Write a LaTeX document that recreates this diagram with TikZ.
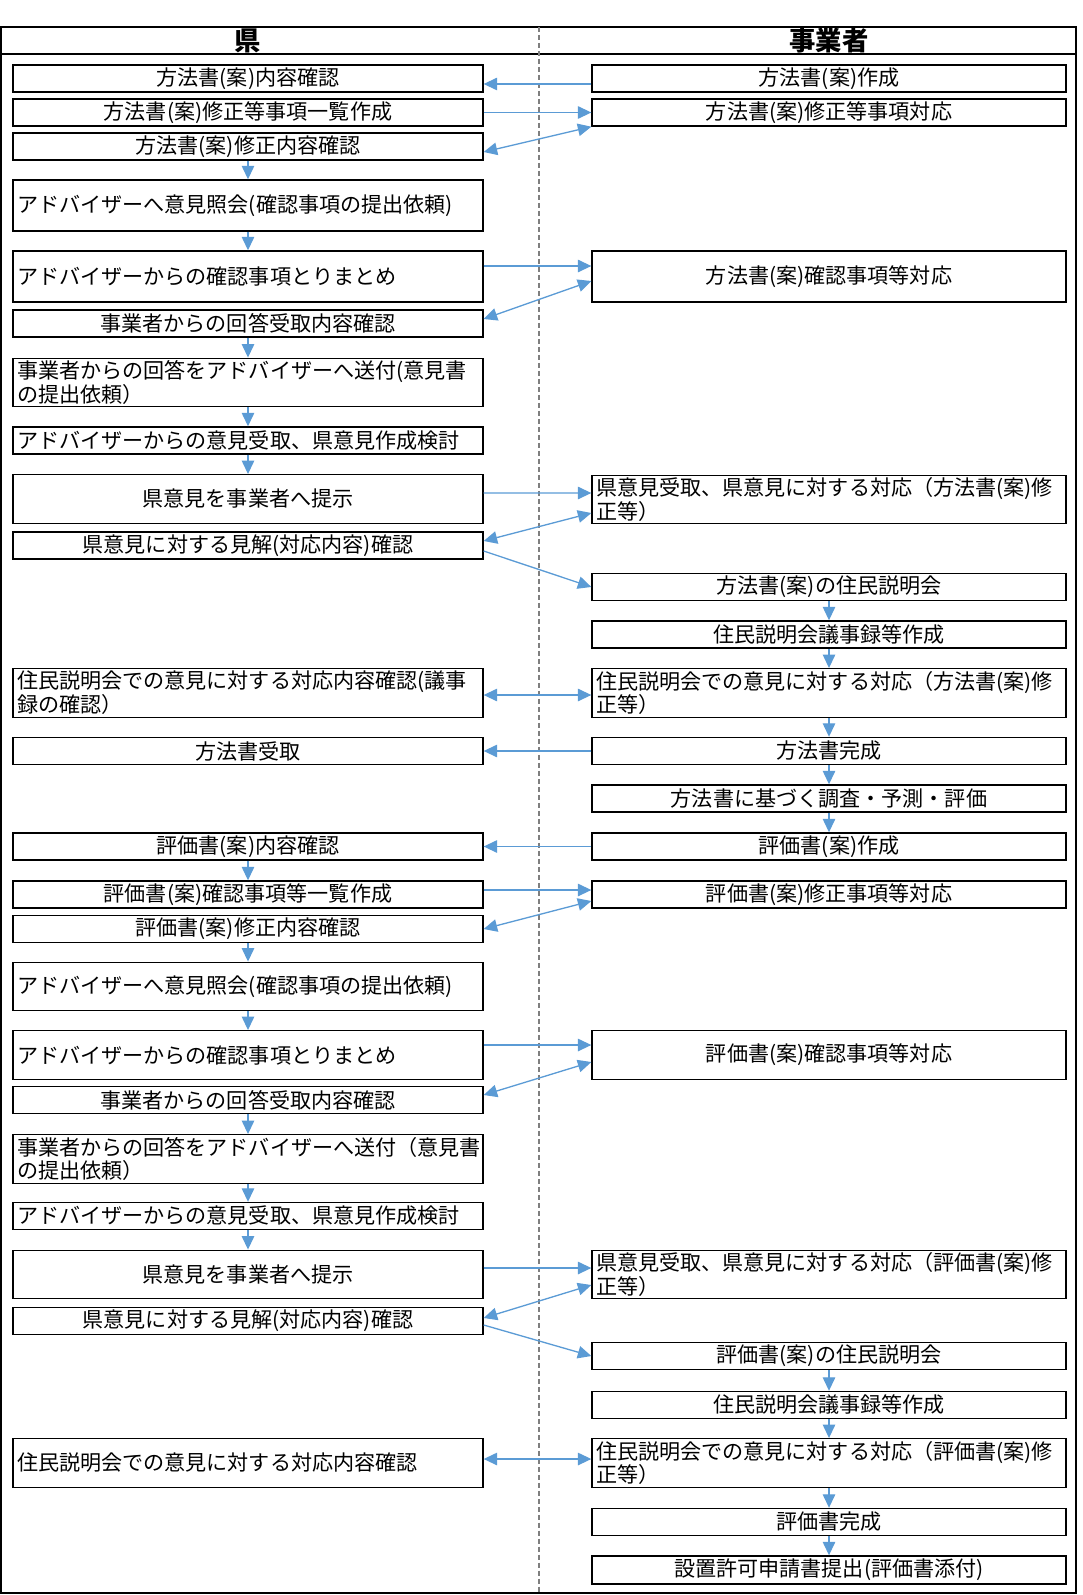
\documentclass[tikz,border=0pt]{standalone}
\usepackage{fontspec}
\setmainfont{Noto Sans CJK JP}
\usetikzlibrary{arrows.meta}
\definecolor{arrowblue}{HTML}{5B9BD5}
\definecolor{laneline}{HTML}{7F7F7F}

\begin{document}
\begin{tikzpicture}[x = 0.02cm, y = -0.02cm,
    box/.style = {draw, line width = 0.8pt, inner xsep = 0.08cm, inner ysep = 0pt, minimum height = 0.54cm, font = \fontsize{12pt}{12.6pt}\selectfont},
    lbox/.style = {box, text width = 9.24cm, align = center},
    rbox/.style = {box, text width = 9.32cm, align = center},
    tall/.style = {minimum height = 0.97cm},
    lft/.style = {align = left},
    head/.style = {font = \fontsize{15pt}{16pt}\selectfont\bfseries},
    arr/.style = {draw = arrowblue, line width = 0.75pt, -{Triangle[length = 0.27cm, width = 0.25cm]}},
    darr/.style = {arr, {Triangle[length = 0.27cm, width = 0.25cm]}-{Triangle[length = 0.27cm, width = 0.25cm]}}]
            \useasboundingbox(0,0)rectangle(1082,1595);
            % 枠
            \path[draw, line width = 0.8pt](1,27)rectangle(1076,1593);
            \path[draw, line width = 0.8pt](1,54)to(1076,54);
            \path[draw, laneline, line width = 0.7pt, dash pattern = on 0.1cm off 0.06cm](539,27)to(539,1593);
            \node[head](hd1)at(248,40.5){県};
            \node[head](hd2)at(829,40.5){事業者};

            % 県
            \node[lbox](l1)at(248,78.5){方法書(案)内容確認};
            \node[lbox](l2)at(248,112.5){方法書(案)修正等事項一覧作成};
            \node[lbox](l3)at(248,146.5){方法書(案)修正内容確認};
            \node[lbox, tall, lft, minimum height = 1.02cm](l4)at(248,205.5){アドバイザーへ意見照会(確認事項の提出依頼)};
            \node[lbox, tall, lft, minimum height = 1.02cm](l5)at(248,276.5){アドバイザーからの確認事項とりまとめ};
            \node[lbox](l6)at(248,323.5){事業者からの回答受取内容確認};
            \node[lbox, tall, lft](l7)at(248,382.5){事業者からの回答をアドバイザーへ送付(意見書\\の提出依頼）};
            \node[lbox, lft](l8)at(248,440.5){アドバイザーからの意見受取、県意見作成検討};
            \node[lbox, tall](l9)at(248,499){県意見を事業者へ提示};
            \node[lbox](l10)at(248,545.5){県意見に対する見解(対応内容)確認};
            \node[lbox, tall, lft](l13)at(248,693){住民説明会での意見に対する対応内容確認(議事\\録の確認）};
            \node[lbox](l14)at(248,751){方法書受取};
            \node[lbox](l16)at(248,846.5){評価書(案)内容確認};
            \node[lbox](l17)at(248,894.5){評価書(案)確認事項等一覧作成};
            \node[lbox](l18)at(248,929){評価書(案)修正内容確認};
            \node[lbox, tall, lft](l19)at(248,986.5){アドバイザーへ意見照会(確認事項の提出依頼)};
            \node[lbox, tall, lft](l20)at(248,1055){アドバイザーからの確認事項とりまとめ};
            \node[lbox](l21)at(248,1100){事業者からの回答受取内容確認};
            \node[lbox, tall, lft](l22)at(248,1159){事業者からの回答をアドバイザーへ送付（意見書\\の提出依頼）};
            \node[lbox, lft](l23)at(248,1216){アドバイザーからの意見受取、県意見作成検討};
            \node[lbox, tall](l24)at(248,1274.5){県意見を事業者へ提示};
            \node[lbox](l25)at(248,1321){県意見に対する見解(対応内容)確認};
            \node[lbox, tall, lft](l28)at(248,1463){住民説明会での意見に対する対応内容確認};

            % 事業者
            \node[rbox](r1)at(829,78.5){方法書(案)作成};
            \node[rbox](r2)at(829,112.5){方法書(案)修正等事項対応};
            \node[rbox, tall, minimum height = 1.02cm](r5)at(829,276.5){方法書(案)確認事項等対応};
            \node[rbox, tall, lft](r9)at(829,499.5){県意見受取、県意見に対する対応（方法書(案)修\\正等）};
            \node[rbox](r11)at(829,587){方法書(案)の住民説明会};
            \node[rbox](r12)at(829,634.5){住民説明会議事録等作成};
            \node[rbox, tall, lft](r13)at(829,693){住民説明会での意見に対する対応（方法書(案)修\\正等）};
            \node[rbox](r14)at(829,751){方法書完成};
            \node[rbox](r15)at(829,798.5){方法書に基づく調査・予測・評価};
            \node[rbox](r16)at(829,846.5){評価書(案)作成};
            \node[rbox](r17)at(829,894.5){評価書(案)修正事項等対応};
            \node[rbox, tall](r20)at(829,1055){評価書(案)確認事項等対応};
            \node[rbox, tall, lft](r24)at(829,1274.5){県意見受取、県意見に対する対応（評価書(案)修\\正等）};
            \node[rbox](r26)at(829,1356){評価書(案)の住民説明会};
            \node[rbox](r27)at(829,1405){住民説明会議事録等作成};
            \node[rbox, tall, lft](r28)at(829,1463){住民説明会での意見に対する対応（評価書(案)修\\正等）};
            \node[rbox](r29)at(829,1522){評価書完成};
            \node[rbox, minimum height = 0.56cm](r30)at(829,1570){設置許可申請書提出(評価書添付)};

            % 県と事業者の間
            \path[arr]([yshift = -0.11cm]r1.west)to([yshift = -0.11cm]l1.east);
            \path[arr](l2.east)to(r2.west);
            \path[darr]([yshift = -0.11cm]l3.east)to(r2.south west);
            \path[arr]([yshift = 0.21cm]l5.east)to([yshift = 0.21cm]r5.west);
            \path[darr]([yshift = 0.09cm]l6.east)to([yshift = -0.09cm]r5.west);
            \path[arr]([yshift = 0.12cm]l9.east)to([yshift = 0.13cm]r9.west);
            \path[darr]([yshift = 0.09cm]l10.east)to([yshift = -0.27cm]r9.west);
            \path[arr]([yshift = -0.11cm]l10.east)to(r11.west);
            \path[darr]([yshift = -0.04cm]l13.east)to([yshift = -0.04cm]r13.west);
            \path[arr](r14.west)to(l14.east);
            \path[arr](r16.west)to(l16.east);
            \path[arr]([yshift = 0.09cm]l17.east)to([yshift = 0.09cm]r17.west);
            \path[darr](l18.east)to([yshift = -0.13cm]r17.west);
            \path[arr]([yshift = 0.2cm]l20.east)to([yshift = 0.2cm]r20.west);
            \path[darr]([yshift = 0.1cm]l21.east)to([yshift = -0.14cm]r20.west);
            \path[arr]([yshift = 0.13cm]l24.east)to([yshift = 0.13cm]r24.west);
            \path[darr]([yshift = 0.06cm]l25.east)to([yshift = -0.21cm]r24.west);
            \path[arr]([yshift = -0.08cm]l25.east)to(r26.west);
            \path[darr]([yshift = 0.08cm]l28.east)to([yshift = 0.08cm]r28.west);

            % 県の流れ
            \path[arr](l3.south)to(l4.north);
            \path[arr](l4.south)to(l5.north);
            \path[arr](l6.south)to(l7.north);
            \path[arr](l7.south)to(l8.north);
            \path[arr](l8.south)to(l9.north);
            \path[arr](l16.south)to(l17.north);
            \path[arr](l18.south)to(l19.north);
            \path[arr](l19.south)to(l20.north);
            \path[arr](l21.south)to(l22.north);
            \path[arr](l22.south)to(l23.north);
            \path[arr](l23.south)to(l24.north);

            % 事業者の流れ
            \path[arr](r11.south)to(r12.north);
            \path[arr](r12.south)to(r13.north);
            \path[arr](r13.south)to(r14.north);
            \path[arr](r14.south)to(r15.north);
            \path[arr](r15.south)to(r16.north);
            \path[arr](r26.south)to(r27.north);
            \path[arr](r27.south)to(r28.north);
            \path[arr](r28.south)to(r29.north);
            \path[arr](r29.south)to(r30.north);
\end{tikzpicture}
\end{document}
